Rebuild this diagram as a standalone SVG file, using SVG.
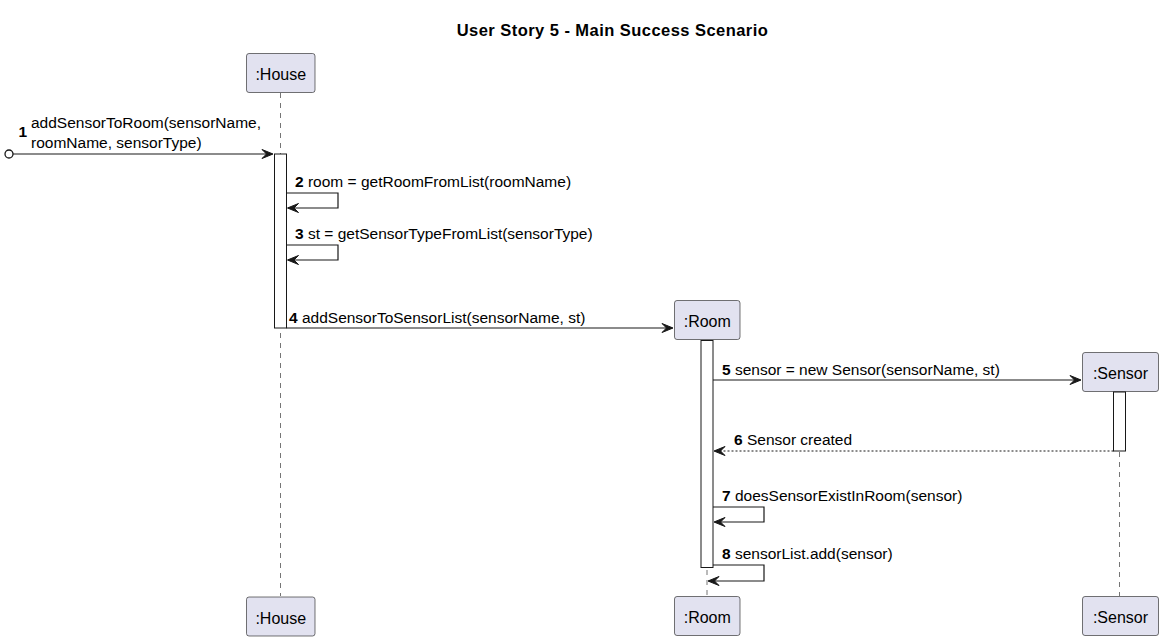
<svg xmlns="http://www.w3.org/2000/svg" width="1164" height="640" viewBox="0 0 1164 640">
<defs>
<style>
.box{fill:#E2E2F0;stroke:#181818;stroke-width:0.6}
.pt{font-family:"Liberation Sans",Arial,sans-serif;font-size:16px;fill:#000;text-anchor:middle}
.life{stroke:#181818;stroke-width:0.6;stroke-dasharray:5,5;fill:none}
.act{fill:#FFFFFF;stroke:#181818;stroke-width:1}
.msg{stroke:#181818;stroke-width:1.2;fill:none}
.ret{stroke:#181818;stroke-width:1.2;fill:none;stroke-dasharray:2,2}
.lbl{font-family:"Liberation Sans",Arial,sans-serif;font-size:15.5px;fill:#000}
.num{font-weight:bold}
.title{font-family:"Liberation Sans",Arial,sans-serif;font-size:16.5px;font-weight:bold;fill:#000;text-anchor:middle;letter-spacing:0.45px}
.ah{fill:#181818;stroke:#181818;stroke-width:1;stroke-linejoin:miter}
</style>
</defs>
<rect width="1164" height="640" fill="#FFFFFF"/>
<text class="title" x="612.5" y="36">User Story 5 - Main Success Scenario</text>

<g id="lifelines">
<line class="life" x1="280.5" y1="93" x2="280.5" y2="596"/>
<line class="life" x1="707" y1="340" x2="707" y2="596"/>
<line class="life" x1="1119.5" y1="392" x2="1119.5" y2="596"/>
</g>

<g id="house">
<rect class="box" x="246.5" y="53.5" width="68.5" height="39" rx="2.5"/>
<text class="pt" x="280.75" y="80">:House</text>
<rect class="box" x="246.5" y="597" width="68.5" height="39" rx="2.5"/>
<text class="pt" x="280.75" y="623.5">:House</text>
<rect class="act" x="274.5" y="154" width="12" height="174"/>
</g>

<g id="room">
<rect class="box" x="674.5" y="300.5" width="65.5" height="39" rx="2.5"/>
<text class="pt" x="707.25" y="327">:Room</text>
<rect class="box" x="674.5" y="596.5" width="65.5" height="39" rx="2.5"/>
<text class="pt" x="707.25" y="623">:Room</text>
<rect class="act" x="701" y="340.5" width="12" height="227"/>
</g>

<g id="sensor">
<rect class="box" x="1082.5" y="352.5" width="76" height="39" rx="2.5"/>
<text class="pt" x="1120.5" y="379">:Sensor</text>
<rect class="box" x="1082.5" y="596.5" width="76" height="39" rx="2.5"/>
<text class="pt" x="1120.5" y="623">:Sensor</text>
<rect class="act" x="1113.5" y="392" width="12" height="59"/>
</g>

<g id="connectors">
<!-- 1 -->
<circle cx="9" cy="154" r="4" fill="#FFFFFF" stroke="#181818" stroke-width="1.3"/>
<line class="msg" x1="13" y1="154" x2="272" y2="154"/>
<polygon class="ah" points="273,154 262,149.5 266.5,154 262,158.5"/>
<text class="lbl" x="18.5" y="137"><tspan class="num">1</tspan></text>
<text class="lbl" x="31" y="128">addSensorToRoom(sensorName,</text>
<text class="lbl" x="31" y="148">roomName, sensorType)</text>
<!-- 2 -->
<polyline class="msg" points="286.5,193 338,193 338,208 288,208"/>
<polygon class="ah" points="287.5,208 298.5,203.5 294,208 298.5,212.5"/>
<text class="lbl" x="295" y="187"><tspan class="num">2</tspan> room = getRoomFromList(roomName)</text>
<!-- 3 -->
<polyline class="msg" points="286.5,245 338,245 338,260 288,260"/>
<polygon class="ah" points="287.5,260 298.5,255.5 294,260 298.5,264.5"/>
<text class="lbl" x="295" y="239"><tspan class="num">3</tspan> st = getSensorTypeFromList(sensorType)</text>
<!-- 4 -->
<line class="msg" x1="286.5" y1="328" x2="672" y2="328"/>
<polygon class="ah" points="673,328 662,323.5 666.5,328 662,332.5"/>
<text class="lbl" x="289" y="323"><tspan class="num">4</tspan> addSensorToSensorList(sensorName, st)</text>
<!-- 5 -->
<line class="msg" x1="713" y1="380" x2="1080" y2="380"/>
<polygon class="ah" points="1081,380 1070,375.5 1074.5,380 1070,384.5"/>
<text class="lbl" x="722" y="375"><tspan class="num">5</tspan> sensor = new Sensor(sensorName, st)</text>
<!-- 6 -->
<line class="ret" x1="1113.5" y1="451" x2="715" y2="451"/>
<polygon class="ah" points="714,451 725,446.5 720.5,451 725,455.5"/>
<text class="lbl" x="734" y="445"><tspan class="num">6</tspan> Sensor created</text>
<!-- 7 -->
<polyline class="msg" points="713,507 764,507 764,522 715,522"/>
<polygon class="ah" points="714,522 725,517.5 720.5,522 725,526.5"/>
<text class="lbl" x="722" y="501"><tspan class="num">7</tspan> doesSensorExistInRoom(sensor)</text>
<!-- 8 -->
<polyline class="msg" points="713,565 764,565 764,581 709,581"/>
<polygon class="ah" points="708,581 719,576.5 714.5,581 719,585.5"/>
<text class="lbl" x="722" y="559"><tspan class="num">8</tspan> sensorList.add(sensor)</text>
</g>
</svg>
